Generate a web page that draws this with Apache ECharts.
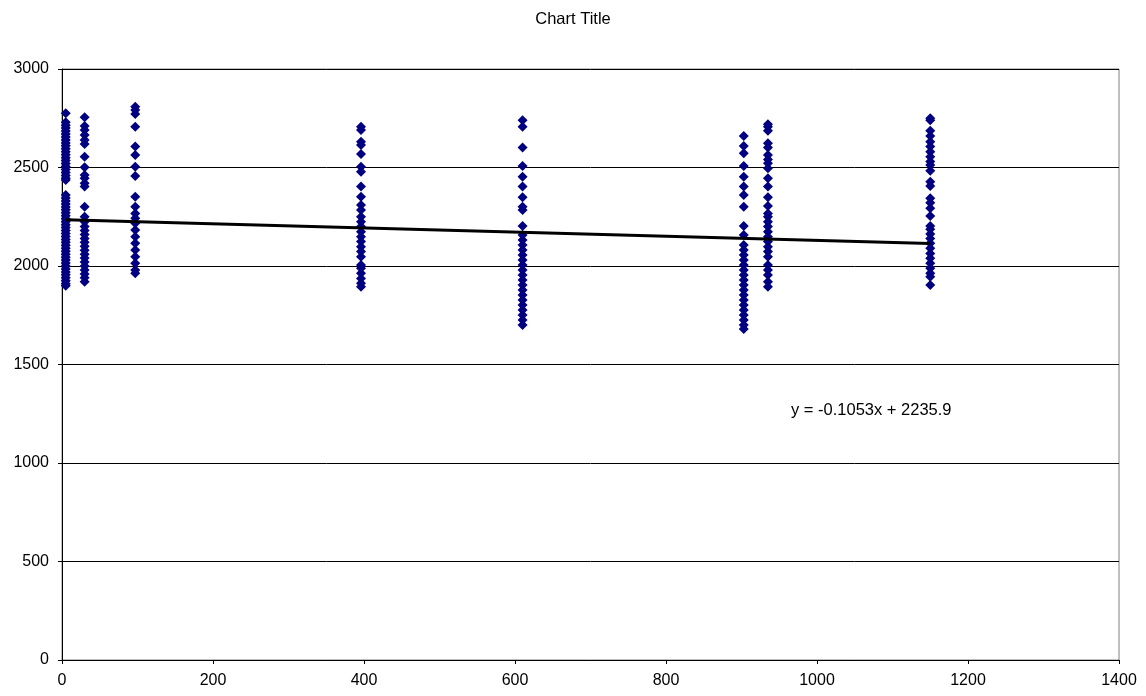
<!DOCTYPE html>
<html>
<head>
<meta charset="utf-8">
<script src="https://cdn.jsdelivr.net/npm/echarts@6/dist/echarts.min.js"></script>
<style>
html,body{margin:0;padding:0;background:#fff;}
#chart{width:1146px;height:696px;}
</style>
</head>
<body>
<div id="chart"></div>
<script>
// X positions of each cluster
const clusterX = [5, 30, 97, 396, 610, 903, 935, 1150];
// Y values of each cluster
const c1 = [2775, 2730, 2715, 2700, 2685, 2670, 2655, 2640, 2625, 2610, 2595, 2580, 2565, 2550, 2535, 2520, 2505, 2490, 2475, 2460, 2445, 2437,
            2360, 2345, 2330, 2315, 2300, 2285, 2270, 2255, 2240, 2225, 2210, 2195, 2180, 2165, 2150, 2135, 2120, 2105, 2090, 2075, 2060, 2045, 2030, 2015, 2000, 1985, 1970, 1955, 1940, 1925, 1910, 1900];
const c2 = [2755, 2711, 2690, 2665, 2640, 2619, 2555, 2501, 2462, 2445, 2420, 2403,
            2301, 2250, 2225, 2200, 2180, 2160, 2140, 2120, 2100, 2080, 2060, 2040, 2020, 2000, 1980, 1960, 1940, 1920];
const c3 = [2809, 2792, 2772, 2707, 2606, 2563, 2504, 2457, 2352, 2301, 2267, 2242, 2217, 2183, 2149, 2115, 2081, 2047, 2014, 1980, 1963];
const c4 = [2707, 2690, 2631, 2614, 2569, 2504, 2479, 2403, 2352, 2310, 2284, 2250, 2225, 2200, 2174, 2149, 2124, 2098, 2073, 2047, 2005, 1988, 1963, 1937, 1912, 1895];
const c5 = [2740, 2707, 2602, 2508, 2453, 2403, 2349, 2301, 2284, 2203, 2157, 2132, 2107, 2081, 2056, 2030, 2005, 1980, 1954, 1929, 1904, 1878, 1853, 1827, 1802, 1777, 1751, 1726, 1701];
const c6 = [2660, 2609, 2572, 2508, 2453, 2403, 2360, 2301, 2203, 2157, 2107, 2081, 2056, 2030, 2005, 1980, 1954, 1929, 1904, 1878, 1853, 1827, 1802, 1777, 1751, 1726, 1701, 1680];
const c7 = [2720, 2707, 2687, 2623, 2602, 2563, 2541, 2521, 2496, 2445, 2403, 2349, 2305, 2267, 2250, 2225, 2200, 2174, 2149, 2124, 2098, 2073, 2047, 2005, 1980, 1954, 1920, 1895];
const c8 = [2750, 2740, 2687, 2660, 2631, 2606, 2580, 2555, 2530, 2513, 2484, 2428, 2406, 2344, 2321, 2293, 2254, 2203, 2186, 2162, 2140, 2115, 2090, 2064, 2039, 2014, 1988, 1963, 1946, 1904];
const clusterY = [c1, c2, c3, c4, c5, c6, c7, c8];

// Trend line (from the displayed equation)
const trendSlope = -0.1053;
const trendIntercept = 2235.9;
const trendLabel = 'y = -0.1053x + 2235.9';

// Axis settings
const xTicks = [0, 200, 400, 600, 800, 1000, 1200, 1400];
const yTicks = [0, 500, 1000, 1500, 2000, 2500, 3000];
const titleText = 'Chart Title';

const points = [];
clusterX.forEach((x, i) => clusterY[i].forEach(y => points.push([x, y])));
const xMin = Math.min(...clusterX), xMax = Math.max(...clusterX);
const trendData = [[xMin, trendSlope * xMin + trendIntercept], [xMax, trendSlope * xMax + trendIntercept]];

const chart = echarts.init(document.getElementById('chart'));
const font = 'Liberation Sans, Arial, sans-serif';
chart.setOption({
  animation: false,
  backgroundColor: '#fff',
  title: {
    text: titleText, left: 'center', top: 6,
    textStyle: { fontFamily: font, fontSize: 16.5, fontWeight: 'normal', color: '#000' }
  },
  grid: { left: 62, right: 27, top: 69, bottom: 36, show: true, borderColor: '#808080', borderWidth: 1 },
  xAxis: {
    type: 'value', min: xTicks[0], max: xTicks[xTicks.length - 1], interval: 200,
    axisLine: { show: true, lineStyle: { color: '#000', width: 1 } },
    axisTick: { show: true, length: 4, lineStyle: { color: '#000' } },
    axisLabel: { fontFamily: font, fontSize: 16, color: '#000', margin: 13, formatter: v => String(v) },
    splitLine: { show: false }
  },
  yAxis: {
    type: 'value', min: yTicks[0], max: yTicks[yTicks.length - 1], interval: 500,
    axisLine: { show: true, lineStyle: { color: '#000', width: 1 } },
    axisTick: { show: true, length: 4, lineStyle: { color: '#000' } },
    axisLabel: { fontFamily: font, fontSize: 16, color: '#000', margin: 13, formatter: v => String(v) },
    splitLine: { show: true, lineStyle: { color: '#000', width: 1 } }
  },
  graphic: [{
    type: 'text', left: 791, top: 402,
    style: { text: trendLabel, font: '16.5px Liberation Sans, Arial, sans-serif', fill: '#000' }
  }],
  series: [{
    type: 'scatter', data: points, symbol: 'diamond', symbolSize: 10,
    itemStyle: { color: '#000080', opacity: 1 }, z: 2
  }, {
    type: 'line', data: trendData, symbol: 'none', z: 3,
    lineStyle: { color: '#000', width: 3 }
  }]
});
</script>
</body>
</html>
